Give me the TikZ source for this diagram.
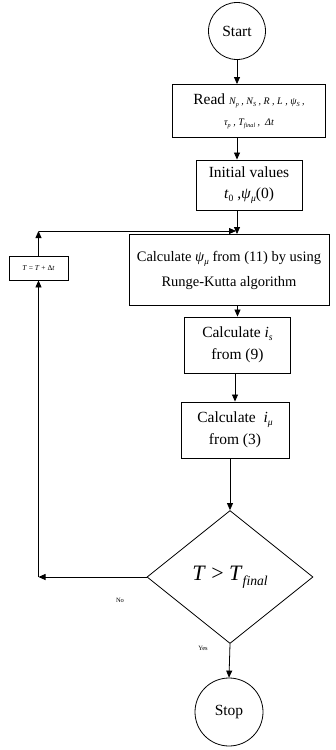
\documentclass[tikz,border=0pt]{standalone}
\usepackage{fontspec}
\setmainfont{Liberation Serif}
\usetikzlibrary{shapes.geometric,arrows.meta}
\newcommand{\lsub}[1]{\raisebox{-0.45ex}{\scalebox{0.62}{#1}}}
\newcommand{\smit}{\fontsize{10}{12}\selectfont\itshape}
\begin{document}
\begin{tikzpicture}[x=1pt,y=-1pt,
  every node/.style={font=\fontsize{15.5}{25}\selectfont, inner sep=0pt},
  box/.style={draw, line width=0.9pt, rectangle, align=center},
  term/.style={draw, line width=0.8pt, circle, align=center},
  arr/.style={line width=0.8pt, -{Triangle[length=7pt,width=6pt]}},
  lbl/.style={font=\fontsize{6.5}{8}\selectfont}]
\useasboundingbox (0,0) rectangle (336,750);
\node[term, minimum size=57pt] (start) at (237,31) {Start};
\node[box, minimum width=153pt, minimum height=53pt] (read) at (249,111)
  {Read {\smit N\lsub{p} , N\lsub{S} , R , L , ψ\lsub{S} ,}\\[-4pt]
   {\smit τ\lsub{p} , T\lsub{final} ,\ \ Δt}};
\node[box, minimum width=106pt, minimum height=50pt] (init) at (249,185)
  {Initial values\\[-4pt] \textit{t}\lsub{0} ,\textit{ψ}\lsub{\textit{μ}}(0)};
\node[box, minimum width=200pt, minimum height=71pt,
  font=\fontsize{14.5}{25}\selectfont] (psi) at (229,270)
  {Calculate \textit{ψ}\lsub{\textit{μ}} from (11) by using\\ Runge-Kutta algorithm};
\node[box, minimum width=106pt, minimum height=56pt] (is) at (237.5,345)
  {Calculate \textit{i}\lsub{\textit{s}}\\[-3pt] from (9)};
\node[box, minimum width=108pt, minimum height=56pt] (imu) at (235,430)
  {Calculate \ \textit{i}\lsub{\textit{μ}}\\[-3pt] from (3)};
\node[draw, line width=0.8pt, diamond, minimum width=166pt, minimum height=133pt] (dec) at (230,577)
  {\fontsize{22}{24}\selectfont\textit{T} > \textit{T}\lsub{\textit{final}}};
\node[term, minimum size=68pt] (stop) at (229,712) {Stop};
\node[box, line width=0.8pt, minimum width=59pt, minimum height=24pt] (upd) at (38.5,268)
  {\fontsize{7.5}{9}\selectfont\textit{T} = \textit{T} + Δ\textit{t}};
\coordinate (loopin) at (236,231);
\coordinate (corner) at (upd |- loopin);
\coordinate (leftend) at (dec.west -| upd);
\node[lbl] (no) at (120,600) {No};
\node[lbl] (yes) at (203,648) {Yes};
\draw[arr] (start.south) -- (start.south |- read.north);
\draw[arr] (start |- read.south) -- (start |- init.north);
\draw[arr] (start |- init.south) -- (start |- psi.north);
\draw[arr] (is.north |- psi.south) -- (is.north);
\draw[arr] (imu.north |- is.south) -- (imu.north);
\draw[arr] (dec.north |- imu.south) -- (dec.north);
\draw[arr] (dec.south) -- (stop.north);
\draw[arr] (dec.west) -- (leftend);
\draw[arr] (leftend) -- (upd.south);
\draw[arr] (upd.north) -- (corner);
\draw[arr] (corner) -- (loopin);
\end{tikzpicture}
\end{document}
